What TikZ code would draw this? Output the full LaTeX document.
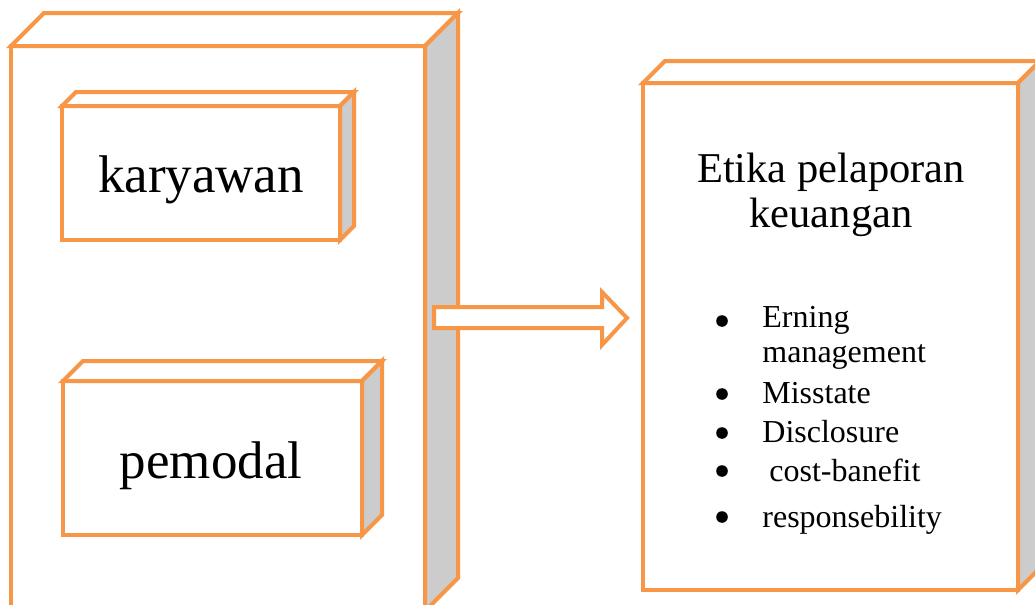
\documentclass[tikz,border=0pt]{standalone}
\usepackage{fontspec}
\setmainfont{Liberation Serif}
\definecolor{boxorange}{HTML}{F79646}
\definecolor{sidegray}{HTML}{CCCCCC}
\tikzset{
  boxline/.style={draw=boxorange,line width=2pt,line join=miter},
  bigtxt/.style={font=\fontsize{26.5}{30}\selectfont,inner sep=0pt},
  midtxt/.style={font=\fontsize{21.25}{24}\selectfont,inner sep=0pt},
  itemtxt/.style={font=\fontsize{16}{19}\selectfont,inner sep=0pt,anchor=base west},
  bulletdot/.style={circle,fill=black,inner sep=0pt,minimum size=5.8pt},
}
\newcommand\cuboid[5]{%
  \draw[boxline,fill=white] (#1,#2) rectangle (#3,#4);
  \draw[boxline,fill=white] (#1,#2) -- ({#1+#5},{#2-#5}) -- ({#3+#5},{#2-#5}) -- (#3,#2) -- cycle;
  \draw[boxline,fill=sidegray] (#3,#2) -- ({#3+#5},{#2-#5}) -- ({#3+#5},{#4-#5}) -- (#3,#4) -- cycle;
}
\begin{document}
\begin{tikzpicture}[x=0.5pt,y=-0.5pt]
\useasboundingbox (0,0) rectangle (1035,605);
\clip (0,0) rectangle (1035,605);
% big left box
\cuboid{11}{46}{425}{611}{33}
% inner boxes
\cuboid{62}{106}{340}{240}{14}
\cuboid{63}{381}{362}{535}{20}
\node[bigtxt,anchor=base] (kar) at (201,192) {karyawan};
\node[bigtxt,anchor=base] (pem) at (211,478) {pemodal};
% right box
\cuboid{643}{83}{1018}{590}{22}
\node[midtxt,anchor=base] (et1) at (831,182) {Etika pelaporan};
\node[midtxt,anchor=base] (et2) at (831,227) {keuangan};
% list
\node[bulletdot] (b1) at (722,321) {};
\node[itemtxt] (i1) at (762,327) {Erning};
\node[itemtxt] (i1b) at (762,362) {management};
\node[bulletdot] (b2) at (722,394) {};
\node[itemtxt] (i2) at (762,403) {Misstate};
\node[bulletdot] (b3) at (722,433) {};
\node[itemtxt] (i3) at (762,442) {Disclosure};
\node[bulletdot] (b4) at (722,471) {};
\node[itemtxt] (i4) at (769,481) {cost-banefit};
\node[bulletdot] (b5) at (722,517) {};
\node[itemtxt] (i5) at (762,527) {responsebility};
% block arrow
\coordinate (as) at (434,318);
\coordinate (at) at (627,318);
\draw[boxline,fill=white] (434,307) -- (602,307) -- (602,292) -- (at) -- (602,345) -- (602,328) -- (434,328) -- cycle;
\end{tikzpicture}
\end{document}
